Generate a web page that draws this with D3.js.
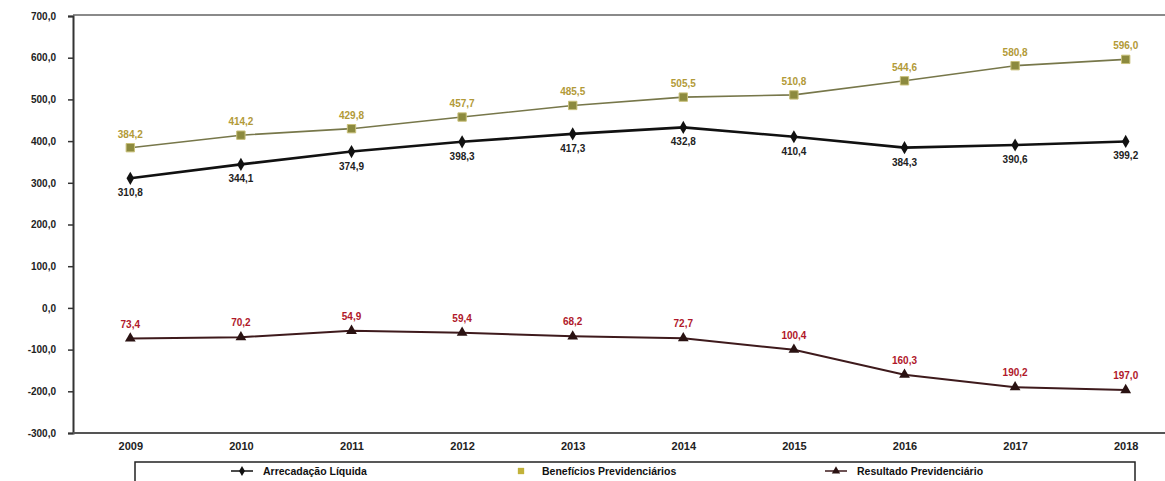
<!DOCTYPE html>
<html>
<head>
<meta charset="utf-8">
<script src="https://cdn.jsdelivr.net/npm/d3@7"></script>
<style>
  body { margin: 0; background: #fff; }
  text { font-family: "Liberation Sans", Arial, sans-serif; font-weight: bold; }
</style>
</head>
<body>
<svg id="chart" width="1165" height="481"></svg>
<script>
// anos e séries (R$ bilhões)
var anos = ["2009", "2010", "2011", "2012", "2013", "2014", "2015", "2016", "2017", "2018"];
var arrecadacao = [310.8, 344.1, 374.9, 398.3, 417.3, 432.8, 410.4, 384.3, 390.6, 399.2];
var beneficios = [384.2, 414.2, 429.8, 457.7, 485.5, 505.5, 510.8, 544.6, 580.8, 596.0];
var resultado = [-73.4, -70.2, -54.9, -59.4, -68.2, -72.7, -100.4, -160.3, -190.2, -197.0];
var yTicks = [-300, -200, -100, 0, 100, 200, 300, 400, 500, 600, 700];
var nomes = ["Arrecadação Líquida", "Benefícios Previdenciários", "Resultado Previdenciário"];

var svg = d3.select("#chart");
var plotLeft = 73, plotTop = 16, plotBottom = 433;

var x = d3.scalePoint().domain(anos).range([75, 1181]).padding(0.5);
var y = d3.scaleLinear().domain([-300, 700]).range([plotBottom, plotTop]);

var fmt = function(v) { return Math.abs(v).toFixed(1).replace(".", ","); };
var fmtTick = function(v) { return (v < 0 ? "-" : "") + Math.abs(v).toFixed(1).replace(".", ","); };

// linha superior
svg.append("line")
  .attr("x1", plotLeft).attr("x2", 1165)
  .attr("y1", plotTop - 1).attr("y2", plotTop - 1)
  .attr("stroke", "#8a8a8a").attr("stroke-width", 2);

// eixo y
var yAxis = svg.append("g")
  .attr("transform", "translate(" + plotLeft + ",0)")
  .call(d3.axisLeft(y).tickValues(yTicks).tickFormat(fmtTick).tickSize(5).tickPadding(12));
yAxis.select(".domain").attr("stroke", "#333").attr("stroke-width", 2);
yAxis.selectAll(".tick line").attr("stroke", "#333").attr("stroke-width", 1.5);
yAxis.selectAll("text").attr("font-size", 10).attr("fill", "#222")
  .style("font-family", "Liberation Sans, Arial, sans-serif");

// eixo x
var xAxis = svg.append("g")
  .attr("transform", "translate(0," + plotBottom + ")")
  .call(d3.axisBottom(x).tickSize(0).tickPadding(9));
xAxis.select(".domain").attr("d", "M" + plotLeft + ",0H1165").attr("stroke", "#555").attr("stroke-width", 2);
xAxis.selectAll("text").attr("font-size", 11).attr("fill", "#222")
  .style("font-family", "Liberation Sans, Arial, sans-serif");

function serie(vals, cor, largura) {
  var pts = vals.map(function(v, i) { return [x(anos[i]), y(v)]; });
  svg.append("path")
    .attr("d", d3.line()(pts))
    .attr("fill", "none")
    .attr("stroke", cor)
    .attr("stroke-width", largura);
  return pts;
}

// Benefícios Previdenciários
serie(beneficios, "#77774a", 1.6);
svg.selectAll(".mb").data(beneficios).enter().append("path")
  .attr("transform", function(d, i) { return "translate(" + x(anos[i]) + "," + y(d) + ")"; })
  .attr("d", d3.symbol().type(d3.symbolSquare).size(70))
  .attr("fill", "#8c8a3e").attr("stroke", "#c9c07a").attr("stroke-width", 1);
svg.selectAll(".lb").data(beneficios).enter().append("text")
  .attr("x", function(d, i) { return x(anos[i]); })
  .attr("y", function(d) { return y(d) - 10; })
  .attr("text-anchor", "middle").attr("font-size", 10).attr("fill", "#b29a38")
  .text(fmt);

// Arrecadação Líquida
serie(arrecadacao, "#111", 2.6);
svg.selectAll(".ma").data(arrecadacao).enter().append("path")
  .attr("transform", function(d, i) { return "translate(" + x(anos[i]) + "," + y(d) + ")"; })
  .attr("d", d3.symbol().type(d3.symbolDiamond).size(50))
  .attr("fill", "#111");
svg.selectAll(".la").data(arrecadacao).enter().append("text")
  .attr("x", function(d, i) { return x(anos[i]); })
  .attr("y", function(d) { return y(d) + 18; })
  .attr("text-anchor", "middle").attr("font-size", 10).attr("fill", "#222")
  .text(fmt);

// Resultado Previdenciário
serie(resultado, "#3e1a1c", 2);
svg.selectAll(".mr").data(resultado).enter().append("path")
  .attr("transform", function(d, i) { return "translate(" + x(anos[i]) + "," + y(d) + ")"; })
  .attr("d", d3.symbol().type(d3.symbolTriangle).size(50))
  .attr("fill", "#2a1212");
svg.selectAll(".lr").data(resultado).enter().append("text")
  .attr("x", function(d, i) { return x(anos[i]); })
  .attr("y", function(d) { return y(d) - 11; })
  .attr("text-anchor", "middle").attr("font-size", 10).attr("fill", "#b0182a")
  .text(fmt);

// legenda
var lg = svg.append("g").attr("transform", "translate(135,462)");
lg.append("rect").attr("x", 0).attr("y", 0).attr("width", 1000).attr("height", 30)
  .attr("fill", "#fff").attr("stroke", "#222").attr("stroke-width", 1.5);
var itens = [
  {x: 96, cor: "#111", sim: d3.symbolDiamond, fill: "#111", tam: 30},
  {x: 375, cor: null, sim: d3.symbolSquare, fill: "#c2b23a", tam: 40},
  {x: 690, cor: "#3e1a1c", sim: d3.symbolTriangle, fill: "#2a1212", tam: 30}
];
itens.forEach(function(it, i) {
  if (it.cor) {
    lg.append("line").attr("x1", it.x).attr("x2", it.x + 22).attr("y1", 9).attr("y2", 9)
      .attr("stroke", it.cor).attr("stroke-width", 1.5);
  }
  lg.append("path").attr("transform", "translate(" + (it.x + 11) + ",9)")
    .attr("d", d3.symbol().type(it.sim).size(it.tam)).attr("fill", it.fill);
  lg.append("text").attr("x", it.x + 32).attr("y", 13)
    .attr("font-size", 10.5).attr("fill", "#111").text(nomes[i]);
});
</script>
</body>
</html>
